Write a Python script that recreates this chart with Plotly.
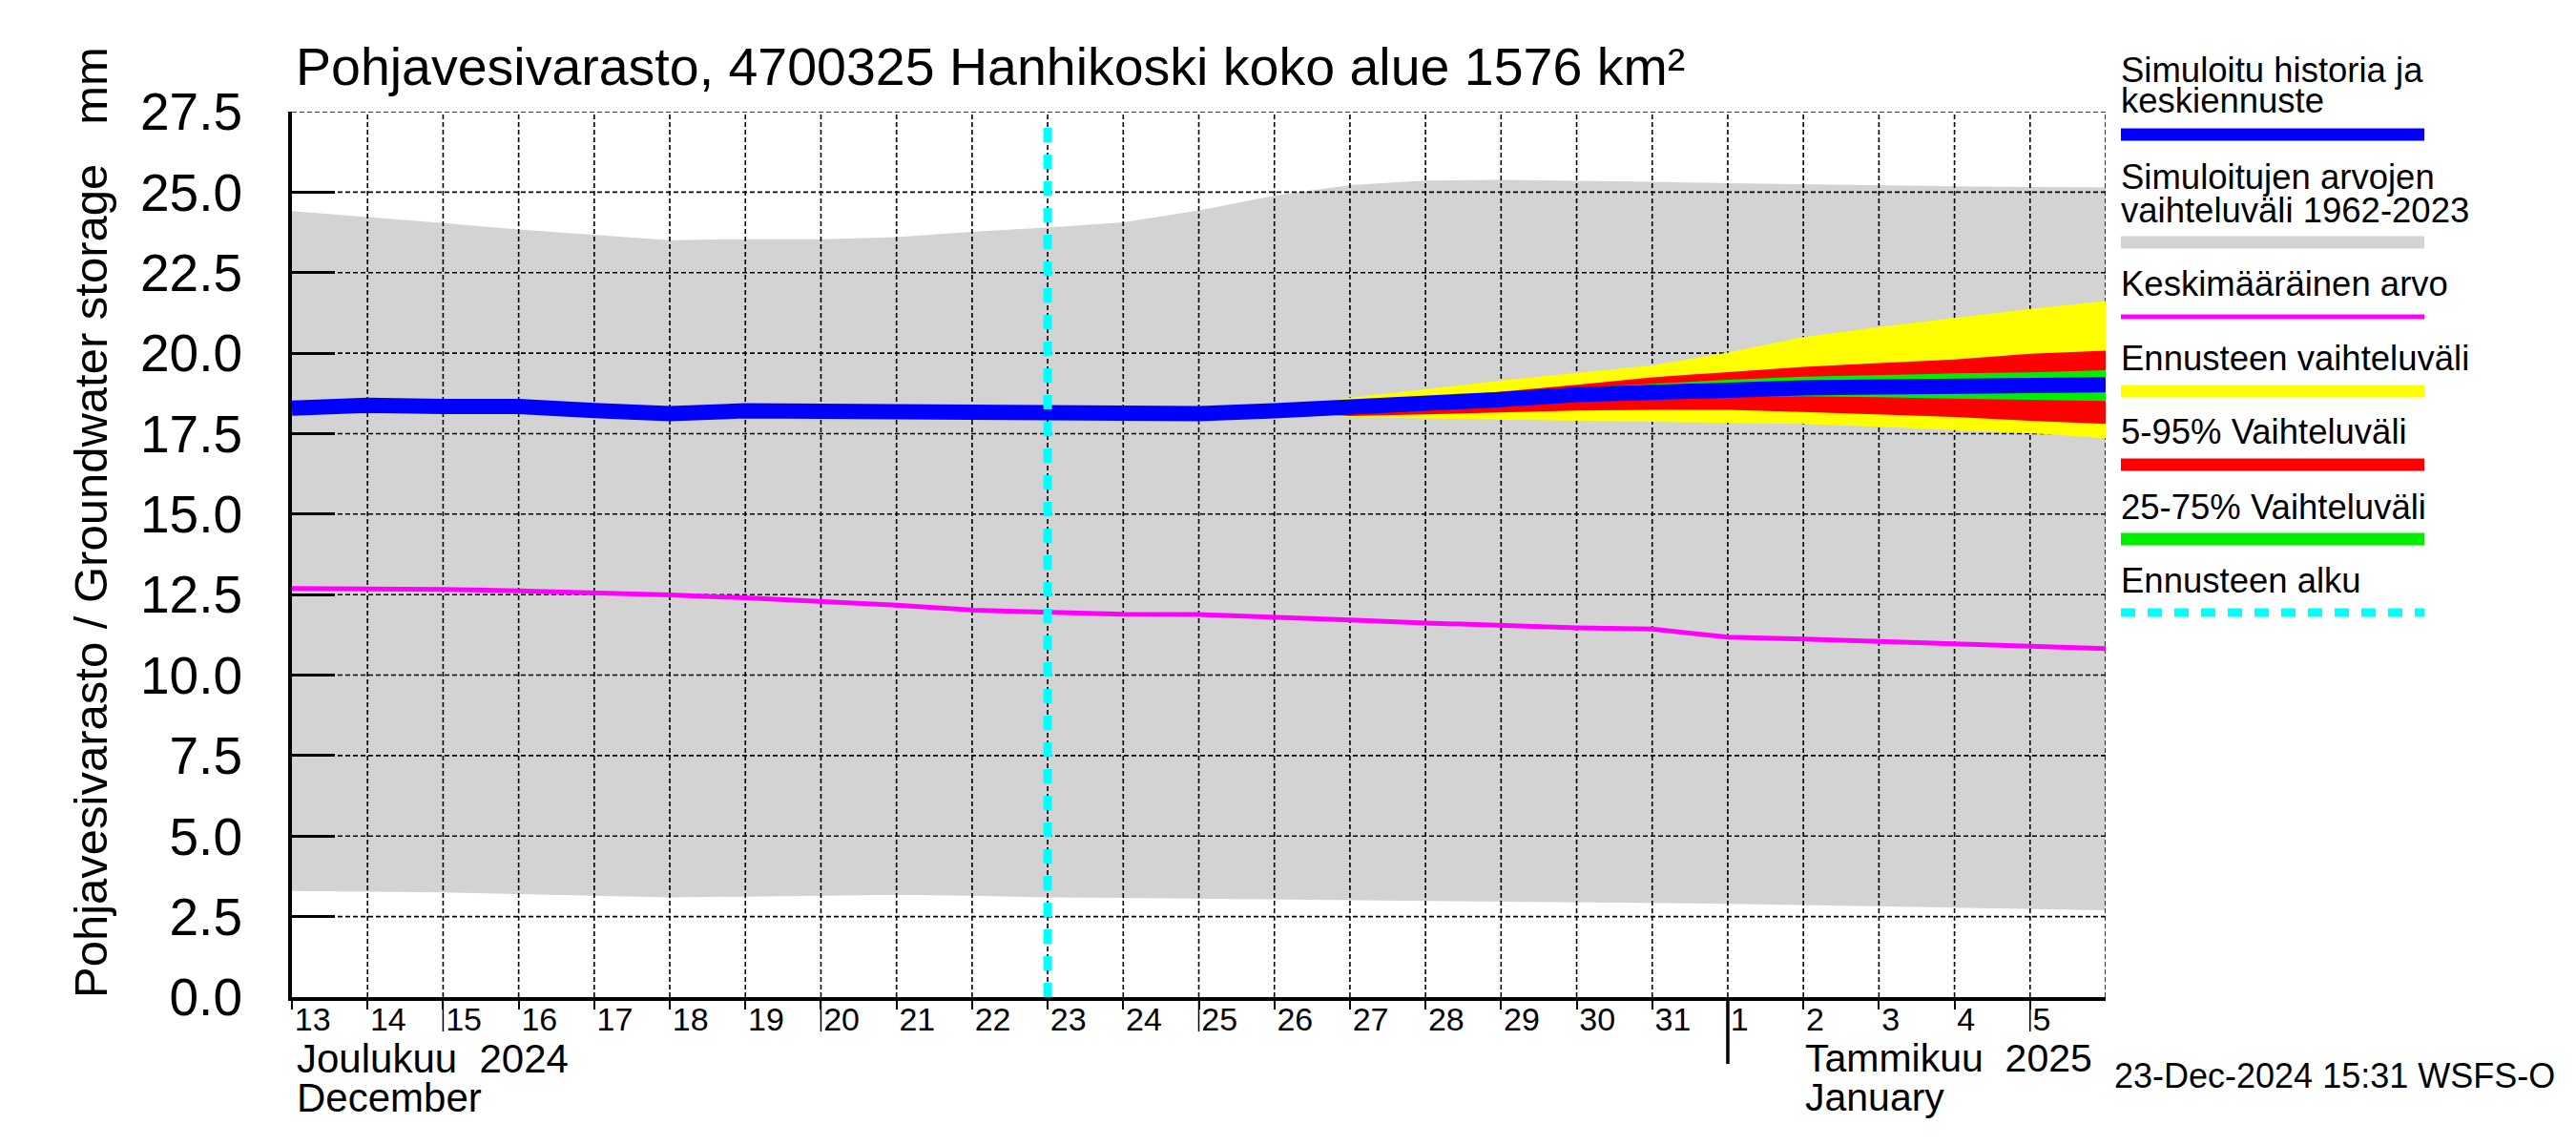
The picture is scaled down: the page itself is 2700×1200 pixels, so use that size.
import plotly.graph_objects as go
import pandas as pd

# ---------------- data ----------------
days = pd.date_range("2024-12-13", "2025-01-06", freq="D")          # 25 daily points
fc_days = pd.date_range("2024-12-26", "2025-01-06", freq="D")       # forecast period
forecast_start = "2024-12-23"

grey_upper = [24.41, 24.23, 24.04, 23.84, 23.67, 23.51, 23.54, 23.54, 23.60, 23.77,
              23.90, 24.06, 24.43, 24.89, 25.22, 25.36, 25.38, 25.36, 25.32, 25.28,
              25.24, 25.20, 25.18, 25.16, 25.15]
grey_lower = [3.30, 3.28, 3.25, 3.20, 3.15, 3.10, 3.12, 3.15, 3.18, 3.15,
              3.10, 3.08, 3.06, 3.04, 3.02, 3.00, 2.98, 2.96, 2.93, 2.90,
              2.86, 2.82, 2.78, 2.74, 2.70]
mean_line = [12.69, 12.68, 12.66, 12.62, 12.57, 12.49, 12.40, 12.30, 12.17, 12.02,
             11.95, 11.89, 11.88, 11.81, 11.71, 11.62, 11.54, 11.47, 11.43, 11.18,
             11.12, 11.04, 10.97, 10.90, 10.82]
sim_median = [18.29, 18.38, 18.34, 18.34, 18.22, 18.12, 18.21, 18.19, 18.15, 18.19,
              18.15, 18.05, 18.12, 18.21, 18.30, 18.41, 18.56, 18.71, 18.80, 18.88,
              18.92, 18.95, 18.98, 19.00, 19.02]

yel_hi = [18.22, 18.62, 18.88, 19.15, 19.39, 19.62, 20.02, 20.50, 20.81, 21.10, 21.37, 21.62]
yel_lo = [18.18, 18.02, 17.97, 17.94, 17.90, 17.87, 17.85, 17.80, 17.71, 17.61, 17.51, 17.36]
red_hi = [18.21, 18.43, 18.61, 18.80, 19.02, 19.25, 19.41, 19.57, 19.69, 19.80, 19.98, 20.08]
red_lo = [18.19, 18.05, 18.10, 18.17, 18.22, 18.24, 18.24, 18.17, 18.10, 18.02, 17.90, 17.80]
grn_hi = [18.20, 18.35, 18.47, 18.62, 18.92, 19.05, 19.17, 19.27, 19.33, 19.37, 19.40, 19.47]
grn_lo = [18.20, 18.25, 18.36, 18.50, 18.60, 18.62, 18.62, 18.66, 18.63, 18.59, 18.56, 18.51]

y_ticks = [0.0, 2.5, 5.0, 7.5, 10.0, 12.5, 15.0, 17.5, 20.0, 22.5, 25.0, 27.5]
day_ticks = list(days[:-1])
day_labels = [str(d.day) for d in day_ticks]
long_tick_days = ["2024-12-15", "2024-12-20", "2024-12-25", "2025-01-05"]
month_start = "2025-01-01"

title_text = "Pohjavesivarasto, 4700325 Hanhikoski koko alue 1576 km²"
ytitle_text = "Pohjavesivarasto / Groundwater storage   mm"
footer_text = "23-Dec-2024 15:31 WSFS-O"

legend_entries = [
    (["Simuloitu historia ja", "keskiennuste"], "#0000ff", 13, "solid"),
    (["Simuloitujen arvojen", "vaihteluväli 1962-2023"], "#d3d3d3", 13, "solid"),
    (["Keskimääräinen arvo"], "#ff00ff", 5, "solid"),
    (["Ennusteen vaihteluväli"], "#ffff00", 13, "solid"),
    (["5-95% Vaihteluväli"], "#ff0000", 13, "solid"),
    (["25-75% Vaihteluväli"], "#00ee00", 13, "solid"),
    (["Ennusteen alku"], "#00ffff", 9, "15px,13px"),
]

# ---------------- geometry (reference pixel coordinates) ----------------
W, H = 2700, 1200
OFF = 8                      # page body margin of the html page
L, R, T, B = 306, 2207, 117, 1045
FONT = "Liberation Sans, Arial, Helvetica, sans-serif"


def px(xp):
    return (xp - L) / (R - L)


def py(yp):
    return (B - yp) / (B - T)


fig = go.Figure()

# grey historical range
fig.add_trace(go.Scatter(x=days, y=grey_lower, mode="lines", line=dict(width=0),
                         hoverinfo="skip", showlegend=False))
fig.add_trace(go.Scatter(x=days, y=grey_upper, mode="lines", line=dict(width=0),
                         fill="tonexty", fillcolor="#d3d3d3", hoverinfo="skip",
                         showlegend=False))

# grid lines (drawn above the grey band)
gx, gy = [], []
for d in days[1:]:
    gx += [d, d, None]
    gy += [y_ticks[0], y_ticks[-1], None]
fig.add_trace(go.Scatter(x=gx, y=gy, mode="lines",
                         line=dict(color="black", width=1.6, dash="5px,3px"),
                         hoverinfo="skip", showlegend=False))
hx, hy = [], []
for v in y_ticks[1:]:
    hx += [days[0], days[-1], None]
    hy += [v, v, None]
fig.add_trace(go.Scatter(x=hx, y=hy, mode="lines",
                         line=dict(color="black", width=1.6, dash="5px,3px"),
                         hoverinfo="skip", showlegend=False))

# forecast bands
for lo, hi, col in [(yel_lo, yel_hi, "#ffff00"), (red_lo, red_hi, "#ff0000"),
                    (grn_lo, grn_hi, "#00ee00")]:
    fig.add_trace(go.Scatter(x=fc_days, y=lo, mode="lines", line=dict(width=0),
                             hoverinfo="skip", showlegend=False))
    fig.add_trace(go.Scatter(x=fc_days, y=hi, mode="lines", line=dict(width=0),
                             fill="tonexty", fillcolor=col, hoverinfo="skip",
                             showlegend=False))

# mean line
fig.add_trace(go.Scatter(x=days, y=mean_line, mode="lines",
                         line=dict(color="#ff00ff", width=5), showlegend=False))
# simulated history + median forecast
fig.add_trace(go.Scatter(x=days, y=sim_median, mode="lines",
                         line=dict(color="#0000ff", width=16), showlegend=False))
# forecast start
fig.add_trace(go.Scatter(x=[forecast_start, forecast_start], y=[y_ticks[0], 27.2],
                         mode="lines", line=dict(color="#00ffff", width=9, dash="15px,13px"),
                         showlegend=False))

shapes = []
# long x ticks
for d in long_tick_days:
    shapes.append(dict(type="line", xref="x", yref="paper", x0=d, x1=d,
                       y0=0, y1=py(B + 36), line=dict(color="black", width=1.5)))
shapes.append(dict(type="line", xref="x", yref="paper", x0=month_start, x1=month_start,
                   y0=0, y1=py(B + 70), line=dict(color="black", width=3.5)))

annotations = []
annotations.append(dict(text=title_text, xref="paper", yref="paper", x=px(308), y=py(70),
                        xanchor="left", yanchor="middle", showarrow=False,
                        font=dict(size=55.5, color="black", family=FONT)))
annotations.append(dict(text=ytitle_text, xref="paper", yref="paper", x=px(95), y=py(548),
                        xanchor="center", yanchor="middle", textangle=-90, showarrow=False,
                        font=dict(size=49, color="black", family=FONT)))
annotations.append(dict(text="Joulukuu  2024", xref="x", yref="paper", x=days[0], xshift=3,
                        y=py(1109), xanchor="left", yanchor="middle", showarrow=False,
                        font=dict(size=42, color="black", family=FONT)))
annotations.append(dict(text="December", xref="x", yref="paper", x=days[0], xshift=3,
                        y=py(1150), xanchor="left", yanchor="middle", showarrow=False,
                        font=dict(size=42, color="black", family=FONT)))
annotations.append(dict(text="Tammikuu  2025", xref="x", yref="paper", x="2025-01-02", xshift=0,
                        y=py(1109), xanchor="left", yanchor="middle", showarrow=False,
                        font=dict(size=41, color="black", family=FONT)))
annotations.append(dict(text="January", xref="x", yref="paper", x="2025-01-02", xshift=0,
                        y=py(1150), xanchor="left", yanchor="middle", showarrow=False,
                        font=dict(size=41, color="black", family=FONT)))
annotations.append(dict(text=footer_text, xref="paper", yref="paper", x=px(2680), y=py(1127),
                        xanchor="right", yanchor="middle", showarrow=False,
                        font=dict(size=36, color="black", family=FONT)))

# legend (manual)
text_baselines = [[85, 118], [197, 232], [309], [387], [465], [543], [620]]
bar_centers = [141, 254, 332, 410, 487, 565, 642]
for (lines, col, th, dash), bases, bc in zip(legend_entries, text_baselines, bar_centers):
    for txt, b in zip(lines, bases):
        annotations.append(dict(text=txt, xref="paper", yref="paper", x=px(2221), y=py(b - 12),
                                xanchor="left", yanchor="middle", showarrow=False,
                                font=dict(size=36.5, color="black", family=FONT)))
    shapes.append(dict(type="line", xref="paper", yref="paper", x0=px(2223), x1=px(2541),
                       y0=py(bc), y1=py(bc), line=dict(color=col, width=th, dash=dash)))

fig.update_layout(
    width=W, height=H, autosize=False,
    margin=dict(l=L - OFF, r=W - (R - OFF), t=T - OFF, b=H - (B - OFF), pad=0),
    paper_bgcolor="white", plot_bgcolor="white",
    font=dict(family=FONT, color="black"),
    showlegend=False,
    shapes=shapes, annotations=annotations,
)
fig.update_xaxes(
    type="date", range=[days[0], days[-1]],
    showgrid=False, zeroline=False,
    showline=True, linecolor="black", linewidth=4,
    tickvals=day_ticks, ticktext=day_labels,
    ticks="outside", ticklen=9, tickwidth=1.5, tickcolor="black",
    ticklabelposition="outside right", ticklabelstandoff=-10,
    tickfont=dict(size=34, color="black", family=FONT),
)
fig.update_yaxes(
    range=[0, 27.5], showgrid=False, zeroline=False,
    showline=True, linecolor="black", linewidth=4,
    tickvals=y_ticks, ticktext=[f"{v:.1f}" for v in y_ticks],
    ticks="inside", ticklen=45, tickwidth=3, tickcolor="black",
    ticklabelstandoff=37,
    tickfont=dict(size=55, color="black", family=FONT),
)

fig.write_html("out.html")
